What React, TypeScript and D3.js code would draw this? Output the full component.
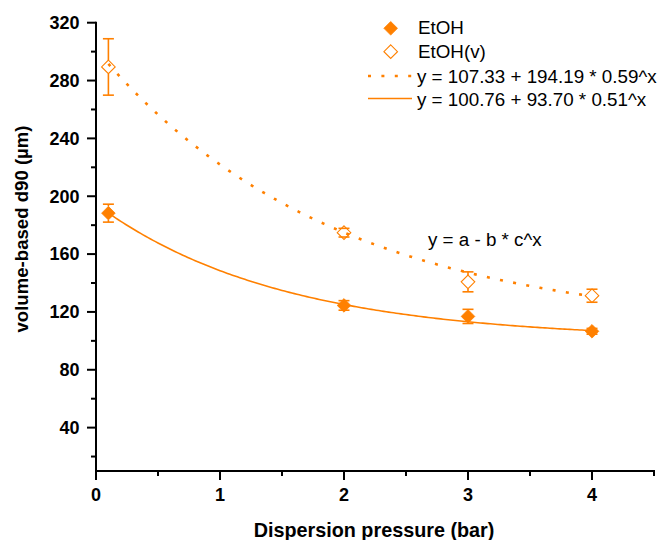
import React from "react";
import * as d3 from "d3";

const pressure = [0.1, 2, 3, 4];
const etoh = [188.3, 124.5, 116.9, 106.6];
const etohErr = [6.2, 3.3, 4.9, 2];
const etohV = [289.4, 174.8, 140.8, 131.2];
const etohVErr = [19.5, 3, 6.9, 4.5];

// fit parameters y = a + b * c^x (from legend)
const fitEtohV = [107.33, 194.19, 0.59];
const fitEtoh = [100.76, 93.7, 0.51];

const xTicks = [0, 1, 2, 3, 4];
const xMinor = [0.5, 1.5, 2.5, 3.5, 4.5];
const yTicks = [40, 80, 120, 160, 200, 240, 280, 320];
const yMinor = [20, 60, 100, 140, 180, 220, 260, 300];

const legendLabels = ["EtOH", "EtOH(v)", "y = 107.33 + 194.19 * 0.59^x", "y = 100.76 + 93.70 * 0.51^x"];
const modelLabel = "y = a - b * c^x";

const W = 662;
const H = 540;
const ORANGE = "#ff8000";
const FONT = "'Liberation Sans', Arial, sans-serif";

const x = d3.scaleLinear().domain([0, 4.5]).range([96, 654]);
const y = d3.scaleLinear().domain([10, 320]).range([471, 22.7]);

const R = 6.8;
const diamond = (cx: number, cy: number, r: number) =>
  `M${cx},${cy - r}L${cx + r},${cy}L${cx},${cy + r}L${cx - r},${cy}Z`;

function fitPoints(p: number[]) {
  const xs = d3.range(0.1, 4.0001, 0.02);
  return xs.map((v) => [v, p[0] + p[1] * Math.pow(p[2], v)] as [number, number]);
}

const line = d3
  .line<[number, number]>()
  .x((d) => x(d[0]))
  .y((d) => y(d[1]))
  .curve(d3.curveLinear);

function ErrorBar({ xv, yv, e }: { xv: number; yv: number; e: number }) {
  const cx = x(xv);
  const cy = y(yv);
  const top = y(yv + e);
  const bot = y(yv - e);
  const segs: JSX.Element[] = [];
  if (top < cy - R) segs.push(<line key="t" x1={cx} x2={cx} y1={top} y2={cy - R} />);
  if (bot > cy + R) segs.push(<line key="b" x1={cx} x2={cx} y1={cy + R} y2={bot} />);
  return (
    <g stroke={ORANGE} strokeWidth={1.6}>
      {segs}
      <line x1={cx - 5.5} x2={cx + 5.5} y1={top} y2={top} />
      <line x1={cx - 5.5} x2={cx + 5.5} y1={bot} y2={bot} />
    </g>
  );
}

export default function App() {
  const lx1 = 368;
  const lx2 = 412;
  const tx = 418;
  return (
    <svg
      width={W}
      height={H}
      style={{ position: "absolute", left: 0, top: 0, background: "#fff" }}
      fontFamily={FONT}
    >
      <rect x={0} y={0} width={W} height={H} fill="#fff" />
      {/* fit curves */}
      <path
        d={line(fitPoints(fitEtohV)) || ""}
        fill="none"
        stroke={ORANGE}
        strokeWidth={2.6}
        strokeDasharray="3 10.4"
      />
      <path d={line(fitPoints(fitEtoh)) || ""} fill="none" stroke={ORANGE} strokeWidth={1.6} />

      {/* error bars */}
      {pressure.map((p, i) => (
        <ErrorBar key={"ev" + i} xv={p} yv={etohV[i]} e={etohVErr[i]} />
      ))}
      {pressure.map((p, i) => (
        <ErrorBar key={"e" + i} xv={p} yv={etoh[i]} e={etohErr[i]} />
      ))}
      {/* markers */}
      {pressure.map((p, i) => (
        <path key={"mv" + i} d={diamond(x(p), y(etohV[i]), R)} fill="none" stroke={ORANGE} strokeWidth={1.1} />
      ))}
      {pressure.map((p, i) => (
        <path key={"m" + i} d={diamond(x(p), y(etoh[i]), R)} fill={ORANGE} stroke={ORANGE} strokeWidth={0.8} />
      ))}

      {/* axes */}
      <g stroke="#000" strokeWidth={2}>
        <line x1={x(0)} x2={x(0)} y1={y(320) - 1} y2={y(10) + 1} />
        <line x1={x(0) - 1} x2={x(4.5) + 1} y1={y(10)} y2={y(10)} />
        {yTicks.map((t) => (
          <line key={"yt" + t} x1={x(0) - 9} x2={x(0)} y1={y(t)} y2={y(t)} />
        ))}
        {yMinor.map((t) => (
          <line key={"ym" + t} x1={x(0) - 5} x2={x(0)} y1={y(t)} y2={y(t)} />
        ))}
        {xTicks.map((t) => (
          <line key={"xt" + t} x1={x(t)} x2={x(t)} y1={y(10)} y2={y(10) + 9} />
        ))}
        {xMinor.map((t) => (
          <line key={"xm" + t} x1={x(t)} x2={x(t)} y1={y(10)} y2={y(10) + 5} />
        ))}
      </g>
      <g fontWeight="bold" fontSize={18} fill="#000">
        {yTicks.map((t) => (
          <text key={"yl" + t} x={x(0) - 16.5} y={y(t)} dy="0.35em" textAnchor="end">
            {t}
          </text>
        ))}
        {xTicks.map((t) => (
          <text key={"xl" + t} x={x(t)} y={500.5} textAnchor="middle">
            {t}
          </text>
        ))}
      </g>
      <text x={374} y={537} textAnchor="middle" fontWeight="bold" fontSize={19.8}>
        Dispersion pressure (bar)
      </text>
      <text
        transform="translate(28,229) rotate(-90)"
        textAnchor="middle"
        fontWeight="bold"
        fontSize={18.6}
      >
        volume-based d90 (µm)
      </text>

      {/* legend */}
      <path d={diamond(390.7, 28.3, R)} fill={ORANGE} stroke={ORANGE} strokeWidth={0.8} />
      <path d={diamond(390.7, 51.7, R)} fill="none" stroke={ORANGE} strokeWidth={1.1} />
      <line x1={lx1} x2={lx2} y1={76} y2={76} stroke={ORANGE} strokeWidth={2.6} strokeDasharray="3 10.4" />
      <line x1={lx1} x2={lx2} y1={98.5} y2={98.5} stroke={ORANGE} strokeWidth={1.6} />
      <g fontSize={18.8} fill="#000">
        <text x={tx} y={34.3}>{legendLabels[0]}</text>
        <text x={tx} y={58.3}>{legendLabels[1]}</text>
        <text x={tx - 1} y={82.7}>{legendLabels[2]}</text>
        <text x={tx - 1} y={106}>{legendLabels[3]}</text>
      </g>
      <text x={428} y={246} fontSize={18.8} fill="#000">
        {modelLabel}
      </text>
    </svg>
  );
}
